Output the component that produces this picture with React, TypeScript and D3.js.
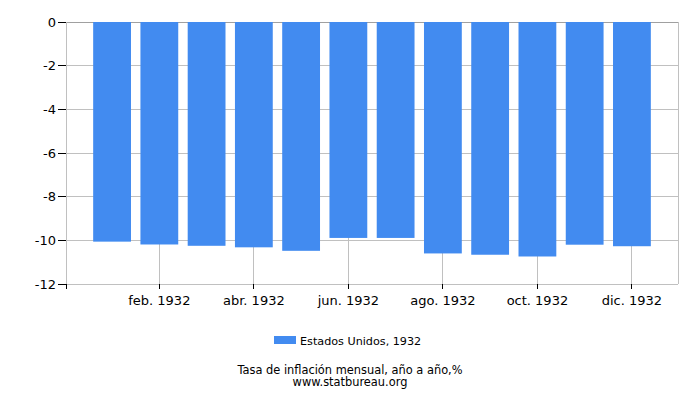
import * as d3 from 'd3';
import { useRef, useEffect } from 'react';

const months = ['ene. 1932', 'feb. 1932', 'mar. 1932', 'abr. 1932', 'may. 1932', 'jun. 1932',
    'jul. 1932', 'ago. 1932', 'sep. 1932', 'oct. 1932', 'nov. 1932', 'dic. 1932'];
const usValues = [-10.06, -10.19, -10.25, -10.32, -10.48, -9.89, -9.89, -10.60, -10.66, -10.74, -10.20, -10.27];
const yTicks = [0, -2, -4, -6, -8, -10, -12];
const xLabelMonths = ['feb. 1932', 'abr. 1932', 'jun. 1932', 'ago. 1932', 'oct. 1932', 'dic. 1932'];
const seriesName = 'Estados Unidos, 1932';
const chartTitle = 'Tasa de inflación mensual, año a año,%';
const siteUrl = 'www.statbureau.org';

const App = () => {
    const svgRef = useRef<SVGSVGElement | null>(null);

    useEffect(() => {
        const svg = d3.select(svgRef.current);
        svg.selectAll('*').remove();

        const left = 66, right = 678, top = 22, bottom = 284;
        const font = 'DejaVu Sans, sans-serif';

        const x = d3.scaleBand<string>()
            .domain(months)
            .range([left, right])
            .paddingInner(0.2)
            .paddingOuter(0.575);

        const y = d3.scaleLinear().domain([0, -12]).range([top, bottom]);

        // horizontal grid
        svg.append('g')
            .selectAll('line')
            .data(yTicks)
            .enter()
            .append('line')
            .attr('x1', left).attr('x2', right)
            .attr('y1', d => y(d)).attr('y2', d => y(d))
            .attr('stroke', d => d === 0 ? '#a0a0a0' : '#c0c0c0')
            .attr('stroke-width', 1)
            .attr('shape-rendering', 'crispEdges');

        // vertical grid at labelled months
        svg.append('g')
            .selectAll('line')
            .data(xLabelMonths)
            .enter()
            .append('line')
            .attr('x1', d => x(d)! + x.bandwidth() / 2)
            .attr('x2', d => x(d)! + x.bandwidth() / 2)
            .attr('y1', top).attr('y2', bottom)
            .attr('stroke', '#c0c0c0')
            .attr('shape-rendering', 'crispEdges');

        // frame sides
        svg.append('line').attr('x1', left).attr('x2', left).attr('y1', top).attr('y2', bottom)
            .attr('stroke', '#c0c0c0').attr('shape-rendering', 'crispEdges');
        svg.append('line').attr('x1', right).attr('x2', right).attr('y1', top).attr('y2', bottom)
            .attr('stroke', '#c0c0c0').attr('shape-rendering', 'crispEdges');

        // bars
        svg.append('g')
            .selectAll('rect')
            .data(usValues)
            .enter()
            .append('rect')
            .attr('x', (_, i) => x(months[i])!)
            .attr('y', y(0))
            .attr('width', x.bandwidth())
            .attr('height', d => y(d) - y(0))
            .attr('fill', '#428bf0');

        // y ticks + labels
        const yAxis = svg.append('g');
        yAxis.selectAll('line')
            .data(yTicks)
            .enter()
            .append('line')
            .attr('x1', left - 8).attr('x2', left)
            .attr('y1', d => y(d)).attr('y2', d => y(d))
            .attr('stroke', '#000')
            .attr('shape-rendering', 'crispEdges');
        yAxis.selectAll('text')
            .data(yTicks)
            .enter()
            .append('text')
            .attr('x', left - 10)
            .attr('y', d => y(d) + 4.5)
            .attr('text-anchor', 'end')
            .attr('font-family', font)
            .attr('font-size', 13)
            .attr('fill', '#000')
            .text(d => d);

        // x ticks + labels
        const xAxis = svg.append('g');
        xAxis.selectAll('line')
            .data(xLabelMonths)
            .enter()
            .append('line')
            .attr('x1', d => x(d)! + x.bandwidth() / 2)
            .attr('x2', d => x(d)! + x.bandwidth() / 2)
            .attr('y1', bottom).attr('y2', bottom + 5)
            .attr('stroke', '#000')
            .attr('shape-rendering', 'crispEdges');
        xAxis.append('line')
            .attr('x1', left).attr('x2', left)
            .attr('y1', bottom).attr('y2', bottom + 5)
            .attr('stroke', '#000')
            .attr('shape-rendering', 'crispEdges');
        xAxis.selectAll('text')
            .data(xLabelMonths)
            .enter()
            .append('text')
            .attr('x', d => x(d)! + x.bandwidth() / 2)
            .attr('y', bottom + 21)
            .attr('text-anchor', 'middle')
            .attr('font-family', font)
            .attr('font-size', 13)
            .attr('fill', '#000')
            .text(d => d);

        // legend
        svg.append('rect')
            .attr('x', 274).attr('y', 336)
            .attr('width', 22).attr('height', 8)
            .attr('fill', '#428bf0');
        svg.append('text')
            .attr('x', 300).attr('y', 344.5)
            .attr('font-family', font)
            .attr('font-size', 11.2)
            .attr('fill', '#000')
            .text(seriesName);

        // title and source, tightly stacked as in the original
        svg.append('text')
            .attr('x', 350).attr('y', 374)
            .attr('text-anchor', 'middle')
            .attr('font-family', font)
            .attr('font-size', 11.4)
            .attr('fill', '#000')
            .text(chartTitle);
        svg.append('text')
            .attr('x', 350).attr('y', 385.5)
            .attr('text-anchor', 'middle')
            .attr('font-family', font)
            .attr('font-size', 11.4)
            .attr('fill', '#000')
            .text(siteUrl);
    }, []);

    return (
        <svg ref={svgRef} width={700} height={400}
            style={{ position: 'absolute', left: 0, top: 0, background: '#fff' }} />
    );
};

export default App;
